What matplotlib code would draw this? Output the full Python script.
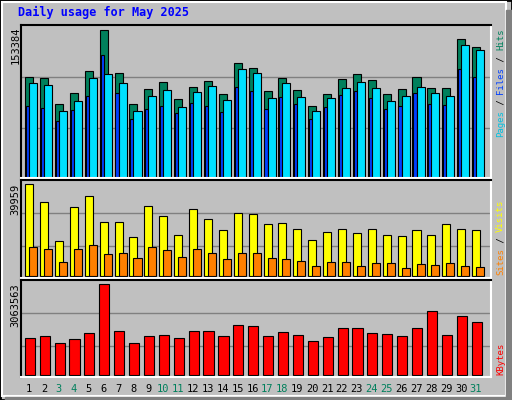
import matplotlib
matplotlib.use("Agg")
import matplotlib.pyplot as plt
from matplotlib.patches import Rectangle

days = list(range(1, 32))
weekend = [3, 4, 10, 11, 17, 18, 24, 25, 31]

hits = [102600, 101600, 75200, 86400, 108700, 150300, 106700, 75200, 90400, 97500,
        80300, 92400, 98500, 85400, 116900, 111800, 88400, 101600, 89400, 73100,
        85400, 100600, 105700, 99500, 85400, 90400, 102600, 91400, 91400, 141100, 133000]
files = [96500, 94500, 68100, 78200, 101600, 105700, 96500, 68100, 83300, 89400,
         72100, 87300, 93500, 79200, 110800, 106700, 81300, 96500, 82300, 68100,
         81300, 91400, 97500, 91400, 78200, 83300, 92400, 86400, 83300, 135100, 130000]
pages = [73100, 71100, 57900, 69100, 83300, 124900, 86400, 59900, 70100, 73100,
         66000, 76200, 73100, 67000, 92400, 88400, 70100, 82300, 75200, 59900,
         72100, 84300, 88400, 81300, 70100, 73100, 86400, 75200, 74200, 110800, 102600]
visits = [39959, 32139, 15300, 29967, 34743, 23740, 23740, 17260, 30401, 26057,
          18129, 29098, 24781, 20030, 27360, 26925, 22582, 23016, 20420, 15670,
          19120, 20420, 18690, 20420, 18130, 17690, 20030, 18130, 22580, 20420, 20030]
sites = [12810, 11940, 6080, 11940, 13670, 9770, 10200, 7820, 12810, 11510,
         8400, 11940, 10200, 7530, 10200, 10200, 7820, 7530, 6660, 4340,
         6080, 6080, 4340, 5650, 5650, 3470, 5210, 4780, 5650, 4340, 3910]
kbytes = [1251700, 1319000, 1083600, 1218100, 1420000, 3063563, 1487300, 1083600,
          1319000, 1352700, 1251700, 1487300, 1487300, 1319000, 1689300, 1655600,
          1319000, 1453700, 1352700, 1150900, 1285400, 1588300, 1588300, 1420000,
          1386300, 1319000, 1588300, 2160500, 1352700, 1992100, 1790200]

grid_top = [102600, 50800]
grid_mid = [27363, 13030]
grid_bot = [2087000, 976000]

BG = "#C0C0C0"
fig = plt.figure(figsize=(5.12, 4.0), dpi=100, facecolor=BG)

# outer frame with bevel
fig.patches.append(Rectangle((0, 0), 1, 1, transform=fig.transFigure, fill=False,
                             edgecolor="black", linewidth=2))
fig.patches.append(Rectangle((0.004, 0.01), 0.985, 0.985, transform=fig.transFigure,
                             fill=False, edgecolor="white", linewidth=1.5))
fig.patches.append(Rectangle((0.989, 0.0), 0.011, 0.975, transform=fig.transFigure,
                             color="#808080"))
fig.patches.append(Rectangle((0.01, 0.0), 0.99, 0.008, transform=fig.transFigure,
                             color="#808080"))

left, width = 0.0404, 0.918
xlim = (0.3, 31.85)
edge = dict(edgecolor="black", linewidth=0.8)


def setup(ax, grid, lo, hi):
    ax.set_facecolor(BG)
    ax.set_xlim(*xlim)
    ax.set_ylim(lo, hi)
    for g in grid:
        ax.axhline(g, color="#808080", linewidth=1, zorder=0)
    ax.set_xticks([])
    ax.set_yticks([])
    for s in ["top", "left"]:
        ax.spines[s].set_color("black")
    for s in ["bottom", "right"]:
        ax.spines[s].set_color("white")
    for s in ax.spines.values():
        s.set_linewidth(1.5)


ax1 = fig.add_axes([left, 0.555, width, 0.3825])
setup(ax1, grid_top, 0, 153384 * 153 / 151)
ax1.bar([d - 0.4 for d in days], hits, width=0.54, align="edge", color="#00805C", **edge)
ax1.bar([d - 0.34 for d in days], pages, width=0.22, align="edge", color="#0040FF", **edge)
ax1.bar([d - 0.13 for d in days], files, width=0.54, align="edge", color="#00E0FF", **edge)

ax2 = fig.add_axes([left, 0.305, width, 0.245])
setup(ax2, grid_mid, -1.7 / 92 * 39959, 96.3 / 92 * 39959)
ax2.bar([d - 0.4 for d in days], visits, width=0.54, align="edge", color="#FFFF00", **edge)
ax2.bar([d - 0.13 for d in days], sites, width=0.54, align="edge", color="#FF8000", **edge)

ax3 = fig.add_axes([left, 0.0575, width, 0.2425])
setup(ax3, grid_bot, -1.7 / 91 * 3063563, 95.3 / 91 * 3063563)
ax3.bar([d - 0.43 for d in days], kbytes, width=0.68, align="edge", color="#FF0000", **edge)

mono = "DejaVu Sans Mono"
fig.text(0.035, 0.968, "Daily usage for May 2025", color="#0000FF", fontsize=8.5,
         fontweight="bold", family=mono, va="center")

fig.text(0.03, 0.935, "153384", rotation=90, fontsize=7.5, family=mono, ha="center", va="top")
fig.text(0.03, 0.54, "39959", rotation=90, fontsize=7.5, family=mono, ha="center", va="top")
fig.text(0.03, 0.292, "3063563", rotation=90, fontsize=7.5, family=mono, ha="center", va="top")

for d in days:
    x = left + (d - xlim[0]) / (xlim[1] - xlim[0]) * width - 0.004
    fig.text(x, 0.028, str(d), fontsize=7.5, family=mono, ha="center", va="center",
             color="#00805C" if d in weekend else "black")


def side_label(parts, y_bottom):
    # char advance of DejaVu Sans Mono at 6.5pt is ~5.4 px
    step = 0.6 * 6.5 * 100 / 72 / 400
    y = y_bottom
    for txt, col in parts:
        fig.text(0.978, y, txt, rotation=90, fontsize=6.5, family=mono, color=col,
                 ha="center", va="bottom")
        y += len(txt) * step


side_label([("Pages", "#00C0E0"), (" / ", "black"), ("Files", "#0040FF"),
            (" / ", "black"), ("Hits", "#00805C")], 0.6575)
side_label([("Sites", "#FF8000"), (" / ", "black"), ("Visits", "#FFFF00")], 0.3125)
side_label([("KBytes", "#FF0000")], 0.0625)

fig.savefig("out.png", dpi=100, facecolor=BG)
